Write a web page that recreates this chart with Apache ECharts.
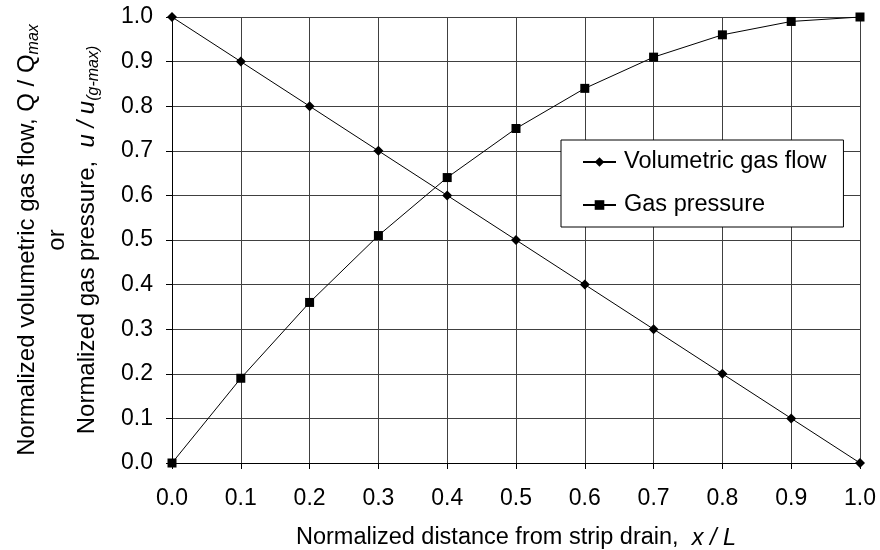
<!DOCTYPE html>
<html>
<head>
<meta charset="utf-8">
<script src="https://cdn.jsdelivr.net/npm/echarts@6/dist/echarts.min.js"></script>
<style>html,body{margin:0;padding:0;background:#fff}#c{width:880px;height:550px}</style>
</head>
<body>
<div id="c"></div>
<script>
const xValues = [0.0, 0.1, 0.2, 0.3, 0.4, 0.5, 0.6, 0.7, 0.8, 0.9, 1.0];
const flowValues = [1.0, 0.9, 0.8, 0.7, 0.6, 0.5, 0.4, 0.3, 0.2, 0.1, 0.0];
const pressureValues = [0.0, 0.19, 0.36, 0.51, 0.64, 0.75, 0.84, 0.91, 0.96, 0.99, 1.0];
const seriesNames = ['Volumetric gas flow', 'Gas pressure'];

const FONT = 'Liberation Sans, Arial, sans-serif';
const chart = echarts.init(document.getElementById('c'), null, {renderer: 'canvas'});

function pairs(ys) { return xValues.map((x, i) => [x, ys[i]]); }

chart.setOption({
  animation: false,
  backgroundColor: '#fff',
  textStyle: {fontFamily: FONT, color: '#000'},
  grid: {left: 172, right: 20, top: 17, bottom: 87, containLabel: false, outerBoundsMode: 'none'},
  legend: {
    left: 561, top: 140,
    orient: 'vertical',
    backgroundColor: '#fff',
    borderColor: '#000', borderWidth: 1,
    padding: [10, 17, 10, 21],
    itemGap: 19,
    itemWidth: 33, itemHeight: 12,
    textStyle: {fontFamily: FONT, fontSize: 23.5, color: '#000', padding: [0, 0, 0, 3]},
    data: seriesNames
  },
  xAxis: {
    type: 'value', min: 0, max: 1, interval: 0.1,
    name: '{n|Normalized distance from strip drain,  }{i|x / L}',
    nameLocation: 'middle', nameGap: 63,
    nameTextStyle: {
      rich: {
        n: {fontFamily: FONT, fontSize: 23.5, color: '#000'},
        i: {fontFamily: FONT, fontSize: 23.5, color: '#000', fontStyle: 'italic'}
      }
    },
    axisLine: {lineStyle: {color: '#000', width: 1}},
    axisTick: {show: true, inside: false, length: 6, lineStyle: {color: '#000'}},
    axisLabel: {fontFamily: FONT, fontSize: 23, color: '#000', margin: 24, formatter: v => v.toFixed(1)},
    splitLine: {show: true, lineStyle: {color: '#404040', width: 1}}
  },
  yAxis: {
    type: 'value', min: 0, max: 1, interval: 0.1,
    name: '{n|Normalized volumetric gas flow, Q / Q}{s|max}\n{n|or}\n{n|Normalized gas pressure,  }{i|u / u}{si|(g-max)}',
    nameLocation: 'middle', nameRotate: 90, nameGap: 70,
    nameTextStyle: {
      align: 'center',
      rich: {
        n: {fontFamily: FONT, fontSize: 24, color: '#000', lineHeight: 30},
        i: {fontFamily: FONT, fontSize: 24, color: '#000', fontStyle: 'italic', lineHeight: 30},
        s: {fontFamily: FONT, fontSize: 16, color: '#000', fontStyle: 'italic', verticalAlign: 'bottom', lineHeight: 30},
        si: {fontFamily: FONT, fontSize: 16, color: '#000', fontStyle: 'italic', verticalAlign: 'bottom', lineHeight: 30}
      }
    },
    axisLine: {show: true, lineStyle: {color: '#000', width: 1}},
    axisTick: {show: true, inside: false, length: 6, lineStyle: {color: '#000'}},
    axisLabel: {fontFamily: FONT, fontSize: 23, color: '#000', margin: 19, formatter: v => v.toFixed(1)},
    splitLine: {show: true, lineStyle: {color: '#404040', width: 1}}
  },
  series: [
    {
      name: seriesNames[0], type: 'line', data: pairs(flowValues),
      symbol: 'diamond', symbolSize: 10,
      lineStyle: {color: '#000', width: 1},
      itemStyle: {color: '#000'}
    },
    {
      name: seriesNames[1], type: 'line', data: pairs(pressureValues),
      symbol: 'rect', symbolSize: 9,
      lineStyle: {color: '#000', width: 1},
      itemStyle: {color: '#000'}
    }
  ]
});
</script>
</body>
</html>
